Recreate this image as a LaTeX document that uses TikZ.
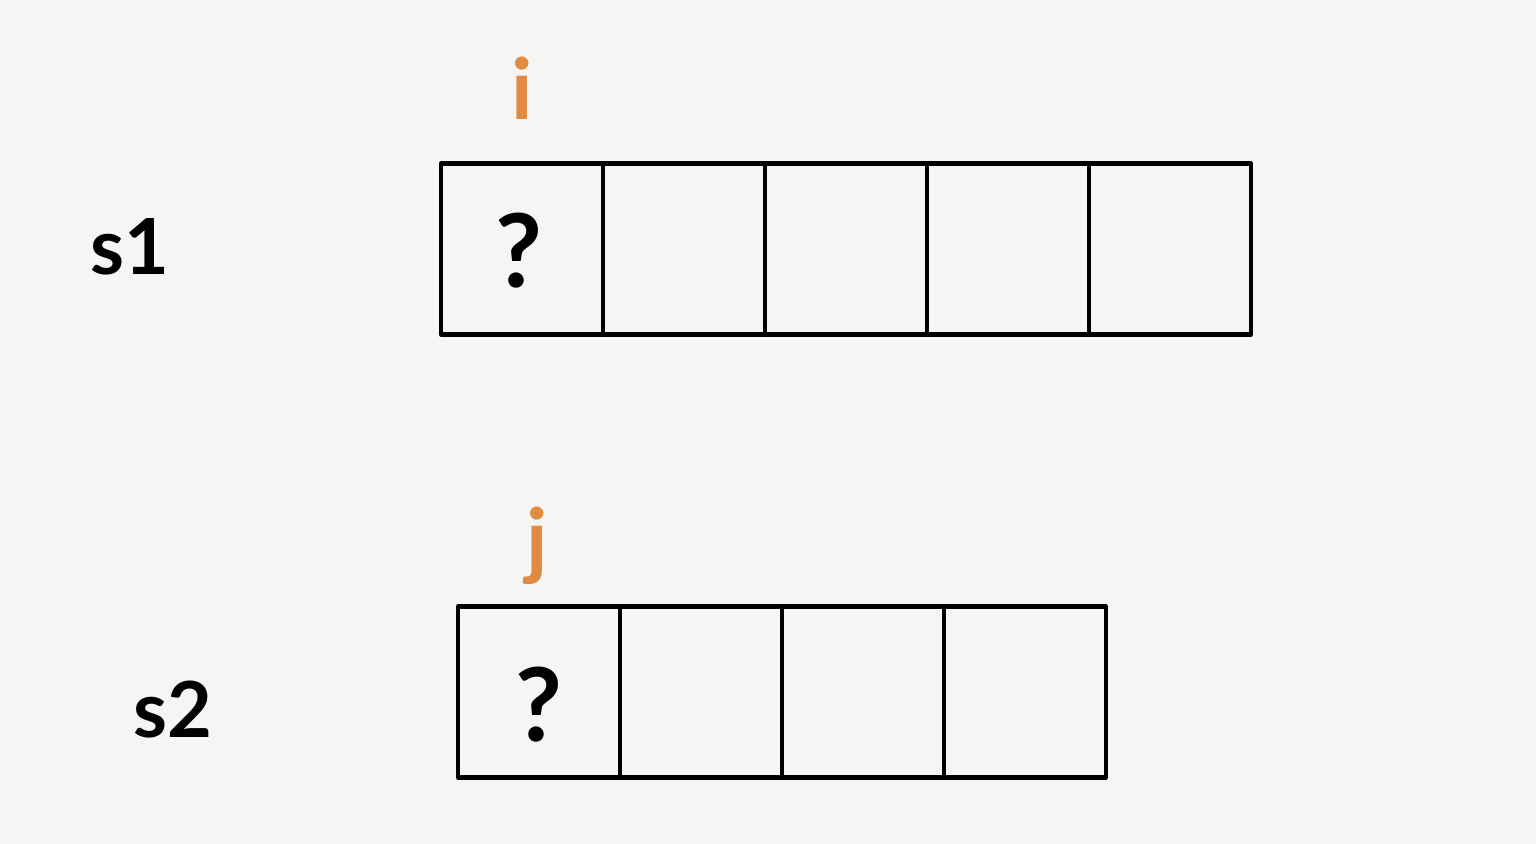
\documentclass[tikz,border=0pt]{standalone}
\usepackage{fontspec}
\setmainfont{Lato}
\usepackage{xcolor}
\usetikzlibrary{positioning}
\definecolor{paper}{HTML}{F5F5F3}
\definecolor{idxorange}{HTML}{E08A42}

\begin{document}
\begin{tikzpicture}[
    cell/.style = {
        rectangle,
        draw=black,
        line width=1.2pt,
        minimum width=1.62cm,
        minimum height=1.71cm,
        inner sep=0pt,
        font=\fontsize{28}{32}\selectfont
    },
    strname/.style = {anchor=base, inner sep=0pt, font=\fontsize{22}{26}\selectfont\bfseries},
    pointer/.style = {anchor=base, inner sep=0pt, text=idxorange, font=\fontsize{24}{28}\selectfont\bfseries},
    qmark/.style   = {anchor=base, inner sep=0pt, font=\fontsize{29}{32}\selectfont\bfseries},
    line cap=round, line join=round
]

\fill[paper] (0,0) rectangle (15.36,-8.44);
\useasboundingbox (0,0) rectangle (15.36,-8.44);

\def\cellw{1.62}
\def\rowa{-2.49}
\def\rowb{-6.92}

% first string
\node[cell] (a1) at (5.22,\rowa) {};
\node[cell] (a2) at (5.22+\cellw,\rowa) {};
\node[cell] (a3) at (5.22+2*\cellw,\rowa) {};
\node[cell] (a4) at (5.22+3*\cellw,\rowa) {};
\node[cell] (a5) at (5.22+4*\cellw,\rowa) {};

% second string
\node[cell] (b1) at (5.39,\rowb) {};
\node[cell] (b2) at (5.39+\cellw,\rowb) {};
\node[cell] (b3) at (5.39+2*\cellw,\rowb) {};
\node[cell] (b4) at (5.39+3*\cellw,\rowb) {};

\node[qmark] (qa) at (5.19,-2.88) {?};
\node[qmark] (qb) at (5.39,-7.42) {?};

\node[strname] (sa) at (1.30,-2.75) {s1};
\node[strname] (sb) at (1.73,-7.38) {s2};

\node[pointer] (pi) at (5.22,-1.20) {i};
\node[pointer] (pj) at (5.37,-5.70) {j};

\end{tikzpicture}
\end{document}
